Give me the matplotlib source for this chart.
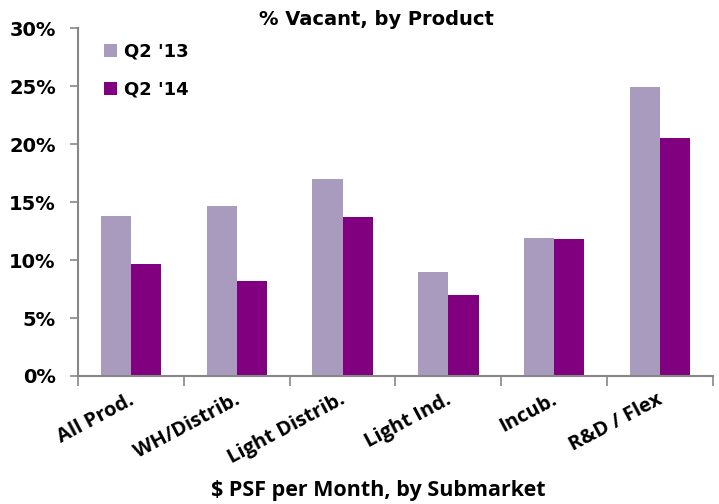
import numpy as np
import matplotlib
matplotlib.use('Agg')
import matplotlib.pyplot as plt
import matplotlib.ticker as mticker

categories = ['All Prod.', 'WH/Distrib.', 'Light Distrib.', 'Light Ind.', 'Incub.', 'R&D / Flex']
q2_13 = [13.8, 14.7, 17.0, 9.0, 11.9, 24.9]
q2_14 = [9.7, 8.2, 13.7, 7.0, 11.8, 20.5]
series_names = ["Q2 '13", "Q2 '14"]
colors = ['#A99BBE', '#800080']

fig = plt.figure(figsize=(7.19, 5.04), dpi=100)
ax = fig.add_axes([0.1085, 0.254, 0.883, 0.69])

x = np.arange(len(categories))
w = 0.285
ax.bar(x - w / 2, q2_13, width=w, color=colors[0], label=series_names[0])
ax.bar(x + w / 2, q2_14, width=w, color=colors[1], label=series_names[1])

ax.set_xlim(-0.5, len(categories) - 0.5)
ax.set_ylim(0, 30)
ax.yaxis.set_major_locator(mticker.MultipleLocator(5))
ax.yaxis.set_major_formatter(mticker.FuncFormatter(lambda v, p: '%d%%' % v))

# boundary ticks at category edges, labels at centres
ax.set_xticks(np.arange(len(categories) + 1) - 0.5)
ax.set_xticklabels([])
ax.set_xticks(x - 0.03, minor=True)
ax.set_xticklabels(categories, minor=True, rotation=28, ha='right',
                   rotation_mode='anchor', fontsize=14.5, fontweight='bold',
                   family='Open Sans')
ax.tick_params(axis='x', which='minor', length=0, pad=10)
ax.tick_params(axis='x', which='major', length=7, color='#878787', width=1.2)
ax.tick_params(axis='y', length=6, color='#878787', width=1.2, pad=10)
for lab in ax.get_yticklabels():
    lab.set_fontweight('bold')
    lab.set_fontsize(14)

for s in ['top', 'right']:
    ax.spines[s].set_visible(False)
for s in ['left', 'bottom']:
    ax.spines[s].set_color('#878787')
    ax.spines[s].set_linewidth(1.5)

leg = ax.legend(loc='upper left', bbox_to_anchor=(0.016, 1.005), frameon=False,
                handlelength=0.7, handleheight=0.7, handletextpad=0.4,
                labelspacing=1.1, prop={'weight': 'bold', 'size': 13})

fig.text(0.523, 0.962, '% Vacant, by Product', ha='center', va='center',
         fontsize=14, fontweight='bold')
fig.text(0.526, 0.027, r'\$ PSF per Month, by Submarket', ha='center', va='center',
         fontsize=15.5, fontweight='bold', family='Open Sans')

fig.savefig('out.png', dpi=100)
